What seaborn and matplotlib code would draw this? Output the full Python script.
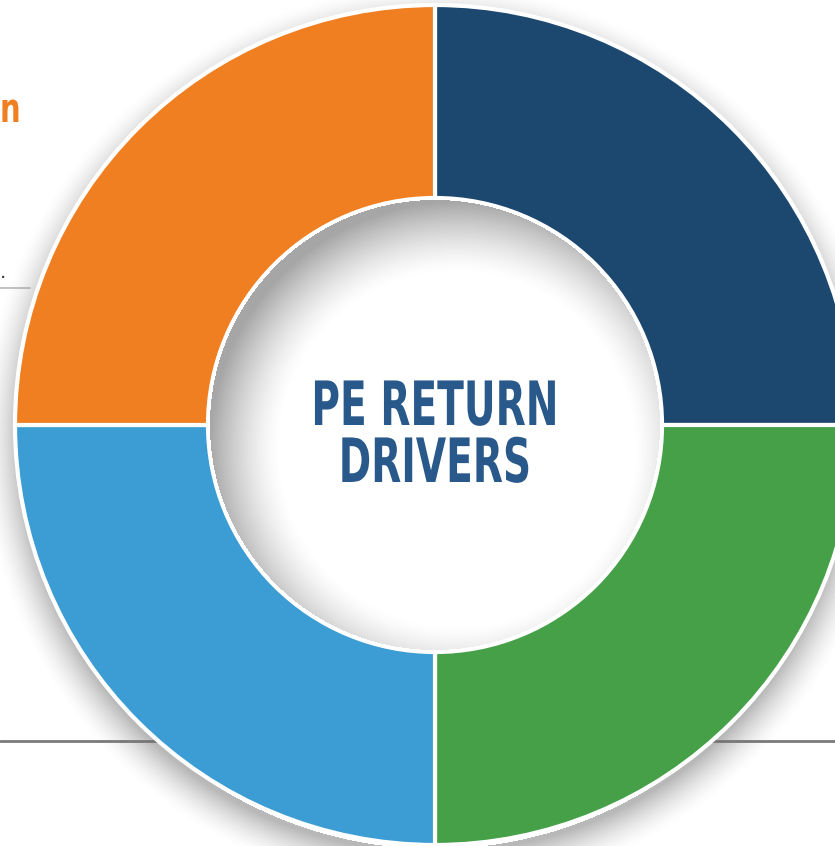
import matplotlib
matplotlib.use("Agg")
import matplotlib.pyplot as plt
from matplotlib.patheffects import AbstractPathEffect
from matplotlib.transforms import Affine2D
import numpy as np
import seaborn as sns

# four equal return drivers, clockwise from 12 o'clock
segment_shares = [25, 25, 25, 25]
segment_colors = ["#1c4870", "#45a048", "#3c9dd5", "#f07f22"]
center_lines = ["PE RETURN", "DRIVERS"]

W, H = 835, 846
cx, cy = 435, 425          # ring centre in image pixels (y down)
r_out, r_in = 420, 227

sns.set_theme(style="white")
plt.rcParams['font.family'] = ['DejaVu Sans']


class Squeeze(AbstractPathEffect):
    """draw text narrower (condensed look) around a given display x"""
    def __init__(self, x0, sx):
        super().__init__()
        self.x0, self.sx = x0, sx

    def draw_path(self, renderer, gc, tpath, affine, rgbFace=None):
        affine = affine + Affine2D().translate(-self.x0, 0).scale(self.sx, 1).translate(self.x0, 0)
        renderer.draw_path(gc, tpath, affine, rgbFace)


fig = plt.figure(figsize=(W / 100, H / 100), dpi=100, facecolor="white")
ax = fig.add_axes([0, 0, 1, 1])

# gray rules running behind the ring
ax.plot([0, 30], [H - 288, H - 288], color="#b8b8b8", lw=1.2, zorder=0.5)
ax.plot([0, 160], [H - 741, H - 741], color="#7a7a7a", lw=2, zorder=0.5)
ax.plot([710, W], [H - 741, H - 741], color="#7a7a7a", lw=2, zorder=0.5)

# soft drop shadow around the ring and inside the hole
yy, xx = np.mgrid[0:H, 0:W] + 0.5
d_out = np.hypot(xx - cx, yy - (cy + 14))
a_out = np.clip(1 - (d_out - r_out + 6) / 40, 0, 1) ** 1.6 * 0.5
a_out[d_out < r_out - 10] = 0
shadow = np.zeros((H, W, 4))
shadow[..., :3] = 0.45
shadow[..., 3] = a_out
ax.imshow(shadow, extent=[0, W, 0, H], origin="upper", zorder=1, interpolation="bilinear")

ax.pie(segment_shares, colors=segment_colors, startangle=90, counterclock=False,
       radius=r_out, center=(cx, H - cy),
       wedgeprops=dict(width=r_out - r_in, edgecolor="white", linewidth=3))
for w in ax.patches:
    w.set_zorder(2)

d0 = np.hypot(xx - cx, yy - cy)
d1 = np.hypot(xx - (cx + 22), yy - (cy + 24))
a_in = np.clip((d1 - (r_in - 50)) / 70, 0, 1) ** 1.4 * 0.6
a_in[d0 > r_in - 2] = 0
inner = np.zeros((H, W, 4))
inner[..., :3] = 0.42
inner[..., 3] = a_in
ax.imshow(inner, extent=[0, W, 0, H], origin="upper", zorder=3, interpolation="bilinear")

label_fx = [Squeeze(435, 0.64)]
ax.text(435, H - 425, center_lines[0], ha="center", va="baseline", fontsize=44,
        fontweight="bold", color="#29598b", zorder=4, path_effects=label_fx)
ax.text(435, H - 482, center_lines[1], ha="center", va="baseline", fontsize=44,
        fontweight="bold", color="#29598b", zorder=4, path_effects=label_fx)

# cut-off fragments of the neighbouring text column
ax.text(0, H - 122, "n", ha="left", va="baseline", fontsize=29,
        fontweight="bold", color="#f07f22", zorder=4, path_effects=[Squeeze(0, 0.72)])
ax.text(0, H - 272, ".", ha="left", va="center", fontsize=14,
        color="#333333", zorder=4)

ax.set_xlim(0, W)
ax.set_ylim(0, H)
ax.set_aspect("auto")
ax.axis("off")

fig.savefig("out.png", dpi=100, facecolor="white")
